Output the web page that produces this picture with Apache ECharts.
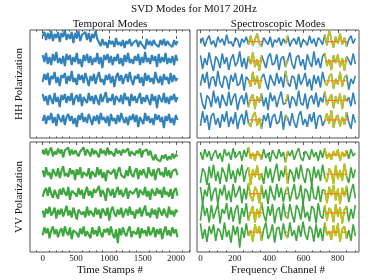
<!DOCTYPE html>
<html><head><meta charset="utf-8">
<script src="https://cdn.jsdelivr.net/npm/echarts@6/dist/echarts.min.js"></script>
<style>html,body{margin:0;padding:0;background:#fff}#c{width:374px;height:280px}</style>
</head><body><div id="c"></div>
<script>
// Sample spacing (time stamps / frequency channels per sample)
const timeStep = 25.6;
const chanStep = 12.7;
// Noise values (1/20 of mode spacing)
const hhT1 = [3,7,-1,6,0,8,-2,5,1,7,-3,6,2,9,-1,5,0,7,-4,6,1,8,-2,4,2,7,-1,6,-3,5,1,8,0,-2,-7,0,-6,-3,-9,-1,-5,-2,-8,1,-6,-3,-7,-1,-9,-2,-5,0,-7,-4,-6,-1,-8,-2,-5,-3,-10,0,-6,-2,-7,-1,-5,-3,-8,-1,-6,0,-7,-2,-5,-4,-8,-1,-6,-2];
const hhT2 = [4,-3,6,-5,2,-6,5,-2,7,-4,1,-5,3,-7,5,-1,4,-6,2,-3,6,-5,0,-8,4,-2,5,-4,3,-6,1,-3,6,-5,2,-9,4,-1,5,-4,3,-6,2,-2,5,-5,1,-7,4,-3,6,-4,0,-5,3,-2,5,-6,2,-4,7,-3,1,-5,4,-2,3,-8,5,-4,2,-3,6,-5,1,-4,3,-6,4,-2];
const hhT3 = [-3,5,-1,6,-6,3,0,7,-4,2,-7,4,1,6,-5,3,-2,8,-3,1,-6,5,-1,4,-4,6,0,-7,3,-2,5,-5,2,7,-3,0,-6,4,-1,5,-4,3,-8,2,6,-2,4,-5,1,5,-3,7,-1,-6,3,0,5,-4,2,-7,6,-2,4,-3,1,-5,7,0,-4,3,-6,5,-1,2,-5,6,-3,4,-2,1];
const hhT4 = [5,-2,3,-6,4,0,-5,6,-3,2,-8,4,-1,5,-4,3,-2,6,-6,1,4,-3,5,-7,2,0,-4,6,-2,3,-5,4,-1,-6,5,-3,2,7,-4,1,-2,5,-6,3,0,-3,4,-5,6,-1,2,-7,5,-2,3,-4,1,6,-5,2,-3,4,-1,-6,5,-2,3,-9,4,0,-3,6,-4,2,-5,3,-1,5,-3,2];
const hhT5 = [-2,4,-5,3,-1,6,-4,2,-7,5,0,-3,4,-6,2,5,-2,3,-5,1,-8,4,-1,6,-3,2,-4,5,0,-6,3,-2,4,-5,6,-1,2,-4,3,-7,5,-2,1,-5,4,-3,6,0,-4,2,-6,3,-1,5,-3,4,-8,2,0,-5,6,-2,3,-4,1,-6,5,-1,4,-3,2,-9,3,-2,5,-4,1,-6,4,-1];
const vvT1 = [4,-1,5,-2,3,6,-3,2,-1,5,0,4,-4,3,1,6,-2,4,-1,3,5,-3,2,0,6,-2,4,1,-3,5,-1,3,2,-4,5,0,3,-2,6,-1,2,4,-3,5,0,3,-2,4,1,-1,5,-3,2,4,-2,3,0,5,-4,2,1,4,-2,3,-3,-7,-1,-6,-4,-8,-2,-5,-1,-7,-3,-6,0,-5,-1,-3];
const vvT2 = [3,-4,6,-2,1,-6,4,0,-3,5,-5,2,7,-3,0,-4,5,-1,3,-7,4,-2,6,-5,1,3,-3,5,-6,2,0,-4,6,-2,4,-5,1,-8,3,5,-1,-3,4,-6,2,6,-2,0,-5,3,-3,7,-1,-4,2,5,-6,3,-2,4,-1,-5,6,0,-3,4,-7,2,5,-2,1,-4,6,-3,3,-5,2,0,4,-2];
const vvT3 = [-4,2,5,-3,6,-1,-5,3,1,-6,4,-2,5,0,-3,6,-7,2,4,-1,-4,5,-2,3,-6,1,6,-3,2,-5,4,0,-2,7,-4,3,-1,-8,5,2,-3,4,-5,1,6,-2,3,-4,0,5,-6,2,4,-1,-3,5,-5,3,1,-2,6,-4,2,-7,4,0,-3,5,-1,3,-5,6,-2,1,-4,4,-6,2,5,-3];
const vvT4 = [2,-5,4,-1,6,-3,0,5,-6,3,-2,4,-4,1,7,-3,2,-5,5,-1,-7,3,4,-2,1,-5,6,-3,2,0,-4,5,-2,3,-6,4,1,-3,5,-8,2,6,-1,-4,3,-2,5,-5,0,4,-3,6,-2,1,-6,3,-1,5,-4,2,7,-3,0,-5,4,-2,3,-6,5,1,-3,4,-1,-5,6,-2,2,-4,3,0];
const vvT5 = [-3,5,-1,4,-6,2,6,-2,3,-5,1,4,-4,6,0,-3,5,-7,2,3,-1,-5,4,-2,6,-4,1,3,-6,5,-2,2,-4,6,-1,-5,3,0,4,-3,6,-2,-6,3,-11,4,-3,5,-1,-4,2,6,-5,1,3,-2,5,-6,4,-1,2,-4,6,-3,0,5,-5,3,-2,4,-7,1,6,-3,2,-4,5,-1,3,-5];
const hhS1 = [-2,4,-5,2,6,-3,1,-6,5,-1,3,-4,7,-2,0,-5,4,2,-6,3,-1,5,-3,6,-4,2,8,-2,-5,4,0,-3,5,-6,2,-1,4,-4,3,-2,6,-5,1,3,-3,5,-6,2,0,-4,6,-2,3,-5,4,1,-3,7,-4,12,2,-6,5,-2,8,-3,4,-5,2,6,-2,3];
const hhS2 = [6,-8,3,-4,9,-2,-10,5,1,-7,8,-3,4,-9,2,7,-5,-1,10,-6,3,-8,5,-3,9,-6,2,-10,6,0,-7,4,8,-4,-2,7,-9,3,5,-6,1,9,-3,-8,4,6,-5,2,-9,7,-1,-6,10,-4,3,-7,5,8,-5,2,-9,6,-2,7,-6,3,-10,5,1,-4,8,-3];
const hhS3 = [-5,7,-2,9,-8,3,4,-6,10,-3,-7,5,2,-9,6,-1,8,-5,-3,7,-10,4,1,-6,9,-4,5,-8,3,7,-2,-9,6,0,-5,8,-3,4,-7,10,-2,-6,5,3,-9,7,-4,1,8,-6,2,-10,6,-3,5,-7,9,-1,-5,4,7,-8,2,-4,9,-6,3,6,-9,2,-3,5];
const hhS4 = [8,-4,-9,5,2,-7,10,-3,4,-8,6,-1,-6,9,-5,3,7,-10,1,5,-4,8,-7,2,6,-9,4,-2,7,-6,3,-10,8,-1,5,-7,2,9,-4,-3,6,-8,4,1,-6,10,-3,-5,7,-9,2,5,-4,8,-7,3,-2,9,-5,1,6,-8,4,-3,7,-9,5,-1,3,-6,8,-4];
const hhS5 = [-6,9,-3,5,-10,4,7,-5,2,-8,6,-2,9,-7,3,-4,8,-9,1,6,-5,10,-3,-7,4,8,-6,2,-9,5,-1,7,-8,3,6,-4,-2,9,-10,5,2,-6,7,-3,-8,4,9,-5,1,-7,6,-2,8,-9,3,5,-6,-1,7,-4,10,-8,2,5,-7,3,-5,8,-2,-9,6,-3];
const vvS1 = [3,-5,6,-2,4,-6,1,5,-4,2,-7,6,-1,3,-5,7,-3,0,4,-6,5,-2,8,-4,2,-6,4,1,-5,6,-3,2,-7,5,0,-4,6,-2,3,-8,4,-1,5,-5,2,7,-3,-6,4,1,-5,6,-2,3,-6,5,-3,7,-4,2,-5,4,-1,6,-6,3,-2,5,-4,6,-1,2];
const vvS2 = [-9,6,2,-11,8,-4,10,-7,3,-10,7,1,-8,11,-5,4,-9,6,-2,10,-8,3,7,-11,5,-3,9,-6,1,-10,8,-4,6,-9,2,11,-7,4,-3,9,-10,5,1,-8,7,-5,10,-2,-9,6,3,-11,8,-4,5,-7,10,-3,-8,6,2,-10,9,-5,4,-7,11,-2,-9,7,-4,5];
const vvS3 = [7,-10,4,-3,11,-8,2,6,-11,5,-2,9,-7,3,-9,10,-4,1,8,-10,5,-6,11,-3,-8,7,2,-10,9,-5,4,-11,8,-1,-7,10,-4,6,-9,3,7,-8,1,10,-6,-3,9,-11,5,2,-8,11,-4,-6,8,-9,4,3,-10,7,-2,9,-7,5,-11,6,-3,8,-9,2,10,-5];
const vvS4 = [-8,11,-3,5,-10,8,-6,2,9,-11,4,-1,10,-7,6,-9,3,8,-12,5,-4,10,-8,1,7,-10,4,-5,11,-2,-9,7,-3,9,-11,2,6,-8,10,-4,-6,9,-2,-10,8,3,-7,11,-5,1,-9,7,4,-11,10,-3,-6,8,-8,5,2,-10,9,-4,6,-11,3,7,-9,4,-6,8];
const vvS5 = [9,-7,3,-10,6,-2,8,-9,4,1,-8,10,-5,2,-11,7,-3,6,-16,5,-6,9,-4,2,-10,8,-1,6,-9,3,10,-7,-2,8,-11,4,5,-8,9,-3,-6,10,-4,2,-9,7,-5,11,-2,-8,6,3,-10,8,-6,4,-9,10,-3,1,-8,7,-4,9,-10,3,6,-7,2,-9,8,-4];
// Flagged channel ranges (highlighted)
const flaggedBands = [[282,360],[497,513],[729,807],[822,857]];
// Tick values
const timeMajor = [0,500,1000,1500,2000];
const timeMinor = [-100,100,200,300,400,600,700,800,900,1100,1200,1300,1400,1600,1700,1800,1900,2100,2200];
const chanMajor = [0,200,400,600,800];
const chanMinor = [50,100,150,250,300,350,450,500,550,650,700,750,850,900];

const BLUE = '#1f77b4', GREEN = '#2ca02c', YELLOW = '#cdc40e', ORANGE = '#ff7f0e';
const FONT = '"Liberation Serif", "DejaVu Serif", serif';

const panels = [
  {modes:[hhT1,hhT2,hhT3,hhT4,hhT5], step:timeStep, color:BLUE, lw:2.1, min:-190, max:2210, ymin:-4.95, ymax:0.45, major:timeMajor, minor:timeMinor, labels:false, grid:{left:30, top:30, width:160, height:108}},
  {modes:[hhS1,hhS2,hhS3,hhS4,hhS5], step:chanStep, color:BLUE, lw:1.6, min:-20, max:923, ymin:-4.92, ymax:0.59, major:chanMajor, minor:chanMinor, labels:false, flagged:true, grid:{left:197, top:30, width:162, height:108}},
  {modes:[vvT1,vvT2,vvT3,vvT4,vvT5], step:timeStep, color:GREEN, lw:2.1, min:-190, max:2210, ymin:-5.0, ymax:0.58, major:timeMajor, minor:timeMinor, labels:true, grid:{left:30, top:142, width:160, height:110}},
  {modes:[vvS1,vvS2,vvS3,vvS4,vvS5], step:chanStep, color:GREEN, lw:1.6, min:-20, max:923, ymin:-5.03, ymax:0.67, major:chanMajor, minor:chanMinor, labels:true, flagged:true, grid:{left:197, top:142, width:162, height:110}}
];

const grid = [], xAxis = [], yAxis = [], series = [], yellow = [], orange = [];
panels.forEach((p, gi) => {
  grid.push(Object.assign({show:true, borderColor:'#555', borderWidth:1, backgroundColor:'transparent'}, p.grid));
  const base = xAxis.length;
  const mk = (pos, vals, len, lab) => ({
    type:'value', gridIndex:gi, position:pos, min:p.min, max:p.max,
    axisLine:{show:false}, splitLine:{show:false},
    axisTick:{show:true, inside:true, length:len, customValues:vals, lineStyle:{color:'#333', width:0.8}},
    axisLabel:{show:lab, customValues:vals, formatter:v => String(v), fontFamily:FONT, fontSize:9, color:'#222', margin:2}
  });
  xAxis.push(mk('bottom', p.major, 3, p.labels));
  xAxis.push(mk('bottom', p.minor, 1.6, false));
  xAxis.push(mk('top', p.major, 3, false));
  xAxis.push(mk('top', p.minor, 1.6, false));
  yAxis.push({type:'value', gridIndex:gi, min:p.ymin, max:p.ymax, show:false});
  p.modes.forEach((arr, k) => {
    const pts = arr.map((v, i) => [i * p.step, -k + v / 20]);
    series.push({
      type:'line', xAxisIndex:base, yAxisIndex:gi, showSymbol:false, symbol:'none',
      data: pts, lineStyle:{color:p.color, width:p.lw, opacity:0.92}, itemStyle:{color:p.color},
      animation:false, silent:true, z:2
    });
    if (p.flagged) {
      const half = p.step / 2;
      const inBand = x => flaggedBands.some(b => x >= b[0] - half && x <= b[1] + half);
      yellow.push({
        type:'line', xAxisIndex:base, yAxisIndex:gi, showSymbol:false, symbol:'none', connectNulls:false,
        data: pts.map(pt => inBand(pt[0]) ? pt : [pt[0], '-']),
        lineStyle:{color:YELLOW, width:p.lw, opacity:0.95}, itemStyle:{color:YELLOW},
        animation:false, silent:true, z:3
      });
      flaggedBands.forEach(b => orange.push({
        type:'line', xAxisIndex:base, yAxisIndex:gi, showSymbol:false, symbol:'none',
        data:[[b[0], -k], [b[1], -k]],
        lineStyle:{color:ORANGE, width:1.2, opacity:1}, itemStyle:{color:ORANGE},
        animation:false, silent:true, z:4
      }));
    }
  });
});

const chart = echarts.init(document.getElementById('c'), null, {renderer:'canvas'});
chart.setOption({
  animation:false,
  backgroundColor:'#fff',
  grid, xAxis, yAxis, series: series.concat(yellow, orange),
  graphic:[
    {type:'text', x:194, y:9, style:{text:'SVD Modes for M017 20Hz', textAlign:'center', textVerticalAlign:'middle', font:'11px ' + FONT, fill:'#111'}},
    {type:'text', x:110, y:24, style:{text:'Temporal Modes', textAlign:'center', textVerticalAlign:'middle', font:'11px ' + FONT, fill:'#111'}},
    {type:'text', x:278, y:24, style:{text:'Spectroscopic Modes', textAlign:'center', textVerticalAlign:'middle', font:'11px ' + FONT, fill:'#111'}},
    {type:'text', x:19, y:84, rotation:Math.PI/2, style:{text:'HH Polarization', textAlign:'center', textVerticalAlign:'middle', font:'11px ' + FONT, fill:'#111'}},
    {type:'text', x:19, y:197, rotation:Math.PI/2, style:{text:'VV Polarization', textAlign:'center', textVerticalAlign:'middle', font:'11px ' + FONT, fill:'#111'}},
    {type:'text', x:110, y:270, style:{text:'Time Stamps #', textAlign:'center', textVerticalAlign:'middle', font:'11px ' + FONT, fill:'#111'}},
    {type:'text', x:278, y:270, style:{text:'Frequency Channel #', textAlign:'center', textVerticalAlign:'middle', font:'11px ' + FONT, fill:'#111'}}
  ]
});
</script></body></html>
